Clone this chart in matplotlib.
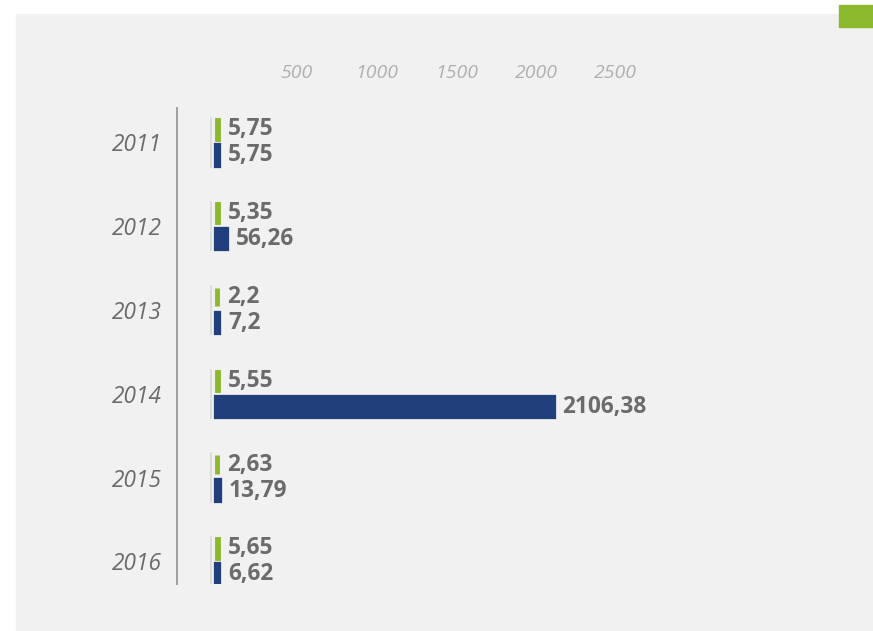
import numpy as np
import matplotlib.pyplot as plt
from matplotlib.patches import Rectangle

years = ["2011", "2012", "2013", "2014", "2015", "2016"]
green_vals = [5.75, 5.35, 2.2, 5.55, 2.63, 5.65]
blue_vals = [5.75, 56.26, 7.2, 2106.38, 13.79, 6.62]
ticks = [500, 1000, 1500, 2000, 2500]

GREEN = "#8cb82b"
BLUE = "#213f7a"
PANEL = "#f1f1f1"
TEXT = "#6b6b6b"

W, H = 873, 631
fig = plt.figure(figsize=(W / 100, H / 100), dpi=100)
fig.patch.set_facecolor("white")

# grey panel + green corner square
fig.patches.append(Rectangle((16 / W, 0), 1 - 16 / W, 1 - 14 / H,
                             transform=fig.transFigure, color=PANEL, zorder=-10))
fig.patches.append(Rectangle((839 / W, 1 - 27 / H), 34 / W, 22 / H,
                             transform=fig.transFigure, color=GREEN, zorder=-9))

ax = fig.add_axes([177 / W, 1 - 584 / H, (668 - 177) / W, (584 - 108) / H])
ax.set_facecolor("none")
ax.set_zorder(5)

y = np.arange(len(years))
h = 0.22
off = 0.155
ax.barh(y - off, green_vals, height=h, color=GREEN, edgecolor=GREEN, linewidth=3.5)
ax.barh(y + off, blue_vals, height=h, color=BLUE, edgecolor=BLUE, linewidth=4.5)
ax.vlines(np.full(len(y), -40), y - 0.3, y + 0.3, color="#dcdcdc", linewidth=1.5)

for yi, g, b in zip(y, green_vals, blue_vals):
    for v, yy in ((g, yi - off), (b, yi + off)):
        ax.annotate(f"{v:g}".replace(".", ","), xy=(v, yy), xytext=(7, 0),
                    textcoords="offset points", va="center", ha="left",
                    fontsize=16.3, fontweight="bold", color=TEXT,
                    family="Open Sans")

ax.set_xlim(-251, 2828)
ax.set_ylim(5.27, -0.41)

ax.set_yticks(y)
ax.set_yticklabels(years, fontsize=16.3, style="italic", color=TEXT,
                   family="Open Sans")
ax.tick_params(axis="y", length=0, pad=11)

ax.xaxis.tick_top()
ax.set_xticks(ticks)
ax.set_xticklabels([str(t) for t in ticks], fontsize=14, style="italic",
                   color="#b0b0b0", family="Open Sans")
ax.tick_params(axis="x", length=0, pad=19)

for s in ("top", "right", "bottom"):
    ax.spines[s].set_visible(False)
ax.spines["left"].set_color("#999999")
ax.spines["left"].set_linewidth(1.3)

fig.savefig("out.png", dpi=100)
